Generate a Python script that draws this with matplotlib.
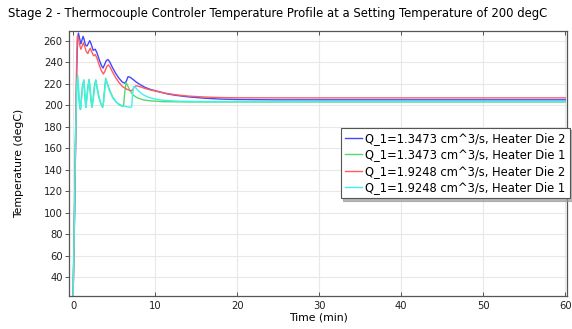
import matplotlib
matplotlib.use("Agg")
import matplotlib.pyplot as plt

# ---- data ----
t_blue = [0, 0.15, 0.3, 0.45, 0.55, 0.65, 0.8, 0.95, 1.1, 1.22, 1.35, 1.5, 1.7, 1.9, 2.03, 2.2, 2.45, 2.7, 2.9, 3.2, 3.45, 3.65, 3.85, 4.05, 4.25, 4.45, 4.8, 5.2, 5.6, 6.0, 6.3, 6.5, 6.7, 6.95, 7.3, 7.7, 8.2, 8.8, 9.5, 10.5, 11.5, 12.5, 14, 16, 18, 20, 25, 30, 40, 50, 60]
T_blue = [22, 85, 160, 235, 262, 267, 262, 257, 261, 264, 261, 256, 255, 258, 260, 257, 251, 252, 249, 242, 237, 234.5, 238, 241.5, 242.5, 240.5, 235, 229.5, 225, 221.5, 220.5, 222.5, 226.5, 226, 224, 221.5, 219, 216.5, 214.5, 212.5, 210.5, 209.2, 207.8, 206.5, 205.7, 205.3, 205, 205, 205, 205, 205]

t_green = [0, 0.15, 0.3, 0.45, 0.53, 0.62, 0.72, 0.82, 0.9, 1.0, 1.15, 1.3, 1.4, 1.5, 1.55, 1.65, 1.8, 1.95, 2.05, 2.2, 2.3, 2.45, 2.6, 2.76, 2.9, 3.1, 3.35, 3.6, 3.7, 3.85, 3.97, 4.1, 4.4, 4.8, 5.2, 5.6, 6.0, 6.15, 6.3, 6.45, 6.6, 6.9, 7.3, 7.8, 8.5, 9.5, 11, 14, 20, 30, 40, 50, 60]
T_green = [22, 95, 175, 222, 228, 220, 206, 198, 196, 206, 218, 223.5, 213, 202, 198, 206, 217, 224, 216, 203, 198, 207, 218, 223.5, 217, 209, 202, 198, 203, 216, 225, 222, 215, 208, 203.5, 200.5, 199, 199.5, 212, 221, 219, 214, 209.5, 207, 205, 204, 203.3, 203, 203, 203, 203, 203, 203]

t_red = [0, 0.15, 0.3, 0.42, 0.52, 0.62, 0.8, 0.95, 1.1, 1.25, 1.4, 1.6, 1.8, 1.95, 2.1, 2.25, 2.5, 2.7, 2.9, 3.2, 3.45, 3.7, 3.9, 4.1, 4.3, 4.5, 4.8, 5.2, 5.6, 6.0, 6.5, 7.0, 7.25, 7.45, 7.65, 7.9, 8.3, 8.8, 9.5, 10.5, 11.5, 12.5, 14, 16, 18, 20, 30, 40, 50, 60]
T_red = [22, 85, 165, 235, 264, 263, 256, 252, 255, 258, 255, 250, 248, 251, 253, 250, 246, 247, 244, 237, 232, 229, 232, 236, 237.5, 235.5, 231, 225.5, 221, 217.5, 215, 213.5, 214, 217, 218, 217.8, 216.8, 215.5, 214, 212.3, 210.8, 209.7, 208.5, 207.6, 207.1, 206.9, 206.8, 206.8, 206.8, 206.8]

t_cyan = [0, 0.15, 0.3, 0.45, 0.55, 0.64, 0.74, 0.84, 0.92, 1.02, 1.17, 1.32, 1.42, 1.52, 1.57, 1.67, 1.82, 1.97, 2.07, 2.22, 2.32, 2.47, 2.62, 2.78, 2.92, 3.12, 3.37, 3.62, 3.72, 3.87, 3.99, 4.12, 4.45, 4.9, 5.4, 6.0, 6.6, 7.05, 7.15, 7.25, 7.4, 7.6, 8.0, 8.6, 9.3, 10.1, 11, 12.5, 15, 20, 30, 40, 50, 60]
T_cyan = [22, 90, 170, 220, 227, 219, 205, 198, 196.5, 205, 217, 223, 213, 202, 198, 205, 216, 223.5, 216, 204, 198.5, 206, 217, 223, 217, 209, 202, 198.5, 203, 215, 224, 221, 213, 206, 202, 199.5, 198.5, 198, 199, 210, 217.5, 216.5, 213, 209.5, 207, 205.6, 204.6, 203.8, 203.5, 203.5, 203.5, 203.5, 203.5, 203.5]

series_labels = ["Q_1=1.3473 cm^3/s, Heater Die 2",
                 "Q_1=1.3473 cm^3/s, Heater Die 1",
                 "Q_1=1.9248 cm^3/s, Heater Die 2",
                 "Q_1=1.9248 cm^3/s, Heater Die 1"]
x_ticks = [0, 10, 20, 30, 40, 50, 60]
y_ticks = [40, 60, 80, 100, 120, 140, 160, 180, 200, 220, 240, 260]

title = "Stage 2 - Thermocouple Controler Temperature Profile at a Setting Temperature of 200 degC"

# ---- figure ----
fig = plt.figure(figsize=(5.72, 3.29), dpi=100)
ax = fig.add_axes([0.1206, 0.1003, 0.8707, 0.8055])

colors = ["#4646ff", "#52d96e", "#ff5c5c", "#3ff2ea"]
series = [(t_blue, T_blue), (t_green, T_green), (t_red, T_red), (t_cyan, T_cyan)]
for (t, T), c, lab in zip(series, colors, series_labels):
    ax.plot(t, T, color=c, lw=1.0, label=lab)

ax.set_xlim(-0.5, 60.2)
ax.set_ylim(22.6, 269)
ax.set_xticks(x_ticks)
ax.set_yticks(y_ticks)
ax.grid(True, color="#e8e8e8", lw=0.8)
ax.set_axisbelow(True)
for s in ax.spines.values():
    s.set_color("#555555")
    s.set_linewidth(0.9)
ax.tick_params(axis="x", direction="in", length=3, width=0.7, colors="#555555",
               labelcolor="#222222", labelsize=7.2, top=True)
ax.tick_params(axis="y", direction="out", length=3, width=0.7, colors="#555555",
               labelcolor="#222222", labelsize=7.2, left=True, right=False, pad=1.5)

# inward ticks on the right spine, without labels
sec = ax.secondary_yaxis("right")
sec.set_yticks(y_ticks)
sec.tick_params(direction="in", length=3, width=0.7, colors="#555555", labelright=False)
sec.spines["right"].set_visible(False)

ax.set_xlabel("Time (min)", fontsize=7.8, labelpad=1)
ax.set_ylabel("Temperature (degC)", fontsize=7.8, labelpad=14)

fig.text(8 / 572, 1 - 14 / 329, title, fontsize=8.4, ha="left", va="center")

leg = ax.legend(loc="upper right", bbox_to_anchor=(1.006, 0.634), fontsize=8.3,
                frameon=True, fancybox=False,
                shadow={"ox": 1.5, "oy": -1.5, "color": "#999999", "alpha": 0.7},
                edgecolor="#555555",
                framealpha=1, handlelength=1.5, handletextpad=0.3,
                borderpad=0.35, labelspacing=0.3, borderaxespad=0)
leg.get_frame().set_linewidth(0.8)
leg.set_zorder(10)

fig.savefig("out.png", dpi=100)
